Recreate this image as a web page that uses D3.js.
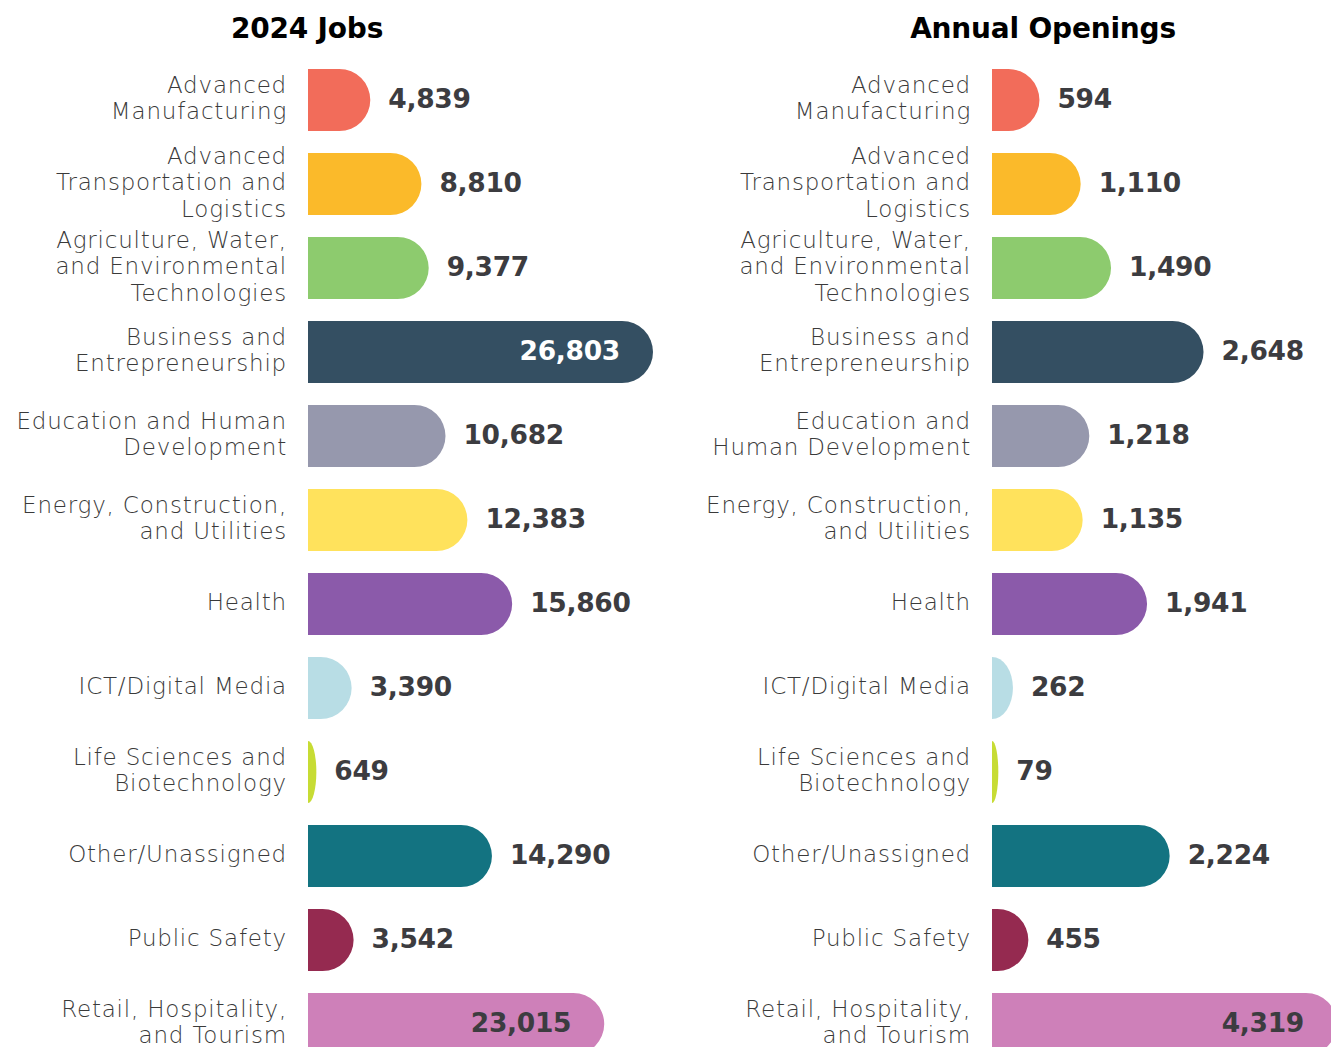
<!DOCTYPE html>
<html>
<head>
<meta charset="utf-8">
<script src="https://cdn.jsdelivr.net/npm/d3@7"></script>
<style>
  body { margin: 0; background: #fff; overflow: hidden; }
</style>
</head>
<body>
<div id="chart"></div>
<script>
// data
const categories = [
  "Advanced Manufacturing",
  "Advanced Transportation and Logistics",
  "Agriculture, Water, and Environmental Technologies",
  "Business and Entrepreneurship",
  "Education and Human Development",
  "Energy, Construction, and Utilities",
  "Health",
  "ICT/Digital Media",
  "Life Sciences and Biotechnology",
  "Other/Unassigned",
  "Public Safety",
  "Retail, Hospitality, and Tourism"
];
const jobs2024 = [4839, 8810, 9377, 26803, 10682, 12383, 15860, 3390, 649, 14290, 3542, 23015];
const annualOpenings = [594, 1110, 1490, 2648, 1218, 1135, 1941, 262, 79, 2224, 455, 4319];
const colors = ["#f26c5a", "#fbba2a", "#8dcb6e", "#344f62", "#9698ad", "#ffe25c",
  "#8b5aaa", "#b8dde5", "#c7dc34", "#137381", "#952a50", "#ce80b9"];
const leftLabelLines = [
  ["Advanced", "Manufacturing"],
  ["Advanced", "Transportation and", "Logistics"],
  ["Agriculture, Water,", "and Environmental", "Technologies"],
  ["Business and", "Entrepreneurship"],
  ["Education and Human", "Development"],
  ["Energy, Construction,", "and Utilities"],
  ["Health"],
  ["ICT/Digital Media"],
  ["Life Sciences and", "Biotechnology"],
  ["Other/Unassigned"],
  ["Public Safety"],
  ["Retail, Hospitality,", "and Tourism"]
];
const rightLabelLines = [
  ["Advanced", "Manufacturing"],
  ["Advanced", "Transportation and", "Logistics"],
  ["Agriculture, Water,", "and Environmental", "Technologies"],
  ["Business and", "Entrepreneurship"],
  ["Education and", "Human Development"],
  ["Energy, Construction,", "and Utilities"],
  ["Health"],
  ["ICT/Digital Media"],
  ["Life Sciences and", "Biotechnology"],
  ["Other/Unassigned"],
  ["Public Safety"],
  ["Retail, Hospitality,", "and Tourism"]
];
// which bars carry their number inside
const insideLabel = { "2024 Jobs": [3, 11], "Annual Openings": [11] };

//////////CODE//////////
const svgObj = { width: 1331, height: 1047 };
const barObj = { maxLen: 345, top: 58, step: 84, lineHeight: 26.5 };

const panels = [
  { title: "2024 Jobs", values: jobs2024, lines: leftLabelLines, x0: 308, titleX: 307 },
  { title: "Annual Openings", values: annualOpenings, lines: rightLabelLines, x0: 992, titleX: 1043 }
];

const svg = d3
  .select("#chart")
  .append("svg")
  .attr("width", svgObj.width)
  .attr("height", svgObj.height);

const y = d3
  .scaleBand()
  .domain(categories)
  .range([barObj.top, barObj.top + barObj.step * categories.length])
  .paddingInner(0.262)
  .paddingOuter(0.131);

// flat left edge, rounded right end (squashed when the bar is short)
const barPath = (x0, y0, w, h) => {
  const ry = h / 2;
  const rx = Math.min(w, ry);
  return `M${x0},${y0}h${w - rx}a${rx},${ry} 0 0 1 ${rx},${ry}` +
    `a${rx},${ry} 0 0 1 ${-rx},${ry}h${-(w - rx)}Z`;
};

panels.forEach((p) => {
  const x = d3.scaleLinear().domain([0, d3.max(p.values)]).range([0, barObj.maxLen]);
  const g = svg.append("g").attr("transform", `translate(${p.x0},0)`);

  svg
    .append("text")
    .attr("x", p.titleX)
    .attr("y", 28)
    .attr("text-anchor", "middle")
    .attr("dominant-baseline", "central")
    .style("font-family", "'DejaVu Sans', sans-serif")
    .style("font-weight", 700)
    .style("font-size", "28px")
    .style("letter-spacing", "-0.2px")
    .style("fill", "#000")
    .text(p.title);

  categories.forEach((c, i) => {
    const v = p.values[i];
    const w = x(v);
    const cy = y(c) + y.bandwidth() / 2;

    g.append("path")
      .attr("d", barPath(0, y(c), w, y.bandwidth()))
      .attr("fill", colors[i]);

    // category label
    const lines = p.lines[i];
    const lbl = g
      .append("text")
      .attr("text-anchor", "end")
      .style("font-family", "'DejaVu Sans', sans-serif")
      .style("font-weight", 200)
      .style("font-size", "23px")
      .style("letter-spacing", "0.8px")
      .style("fill", "#3a3a3a");
    lines.forEach((ln, k) => {
      lbl
        .append("tspan")
        .attr("x", -21)
        .attr("y", cy - 2 + (k - (lines.length - 1) / 2) * barObj.lineHeight)
        .attr("dominant-baseline", "central")
        .text(ln);
    });

    // value label
    const inside = insideLabel[p.title].includes(i);
    g.append("text")
      .attr("x", inside ? w - 33 : w + 18)
      .attr("y", cy - 2)
      .attr("text-anchor", inside ? "end" : "start")
      .attr("dominant-baseline", "central")
      .style("font-family", "'DejaVu Sans', sans-serif")
      .style("font-weight", 700)
      .style("font-size", "26.5px")
      .style("letter-spacing", "-0.3px")
      .style("fill", inside && i === 3 ? "#fff" : "#3c3c40")
      .text(d3.format(",")(v));
  });
});
</script>
</body>
</html>
